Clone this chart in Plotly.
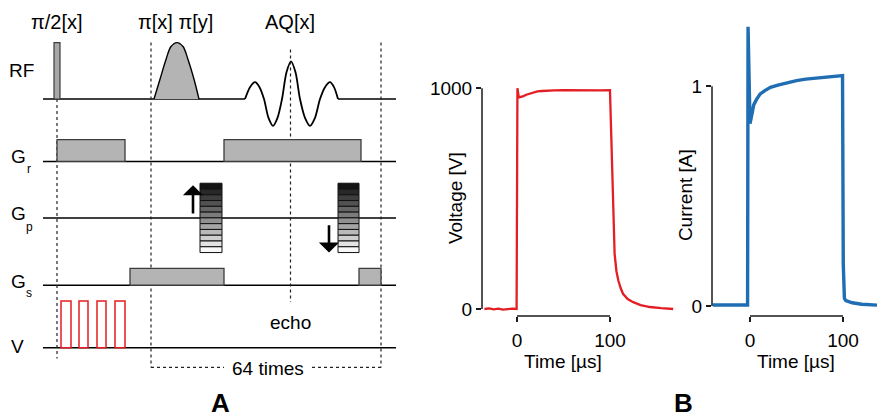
import plotly.graph_objects as go

# ================= Panel B data =================
volt_time = [-35, -30, -25, -20, -15, -10, -5, -0.4, 0, 0.5, 2, 4, 7, 10, 14, 18, 22, 27, 32, 40,
             50, 60, 70, 80, 90, 100, 105, 107, 109, 111.5, 114, 119, 125, 133, 143, 155, 168]
volt_value = [0, 3, -2, 2, -3, 1, 2, 0, 500, 1000, 958, 960, 964, 970, 976, 981, 985, 987, 989, 990,
              991, 990, 992, 991, 990, 991, 250, 170, 129, 95, 69, 45, 31, 18, 9, 4, 0]

curr_time = [-40, -30, -20, -10, -2.6, -2.1, -1.2, 0, 1, 2, 4, 7, 11, 16, 22, 30, 40, 50, 60,
             70, 80, 90, 99.5, 100.3, 101.5, 103, 110, 120, 137]
curr_value = [0.005, 0.006, 0.004, 0.006, 0.005, 1.27, 1.0, 0.83, 0.85, 0.88, 0.915, 0.94, 0.965,
              0.98, 0.995, 1.005, 1.017, 1.025, 1.032, 1.037, 1.041, 1.044, 1.048, 0.19, 0.035,
              0.025, 0.015, 0.008, 0.004]

time_ticks = [0, 100]
volt_ticks = [0, 1000]
curr_ticks = [0, 1]

# ================= Panel A: pulse sequence (schematic units) =================
seq_start, seq_end = 43, 396
rf_base, gr_base, gp_base, gs_base, v_base = 100, 163, 220, 288, 351

rf_hard = [54, 60, 43]                      # x0, x1, top
rf_soft_x = [154, 160, 166, 171, 177, 183, 188, 194, 199]
rf_soft_y = [100, 80, 60, 47, 43, 47, 60, 80, 100]
aq_x = [245, 250, 255, 259.5, 264, 268.5, 273, 277.5, 282, 286.5, 291, 295.5, 300, 305, 310,
        315, 320, 325, 330, 334, 338]
aq_y = [100, 88, 83, 88, 100, 119, 127, 119, 100, 73, 62, 73, 100, 119, 127,
        119, 100, 88, 83, 88, 100]

gr_blocks = [(57, 125), (224, 361)]
gr_top = 141
gs_blocks = [(130, 224), (359, 381)]
gs_top = 271
gp_blocks = [(200, 222), (338, 359)]
gp_top, gp_bottom, gp_steps = 185, 255, 12
gp_arrows = [(193, 217, 187), (329, 226, 255)]   # x, tail y, tip y
v_pulses = [(61, 71), (79, 88), (97, 106), (115, 125)]
v_top = 304

event_x = [57, 151, 290.5, 381]
event_top = [100, 43, 50, 43]
event_bottom = [362, 371, 305, 371]
loop_y = 371
loop_gap = (224, 312)

FONT = "Liberation Sans, Arial, sans-serif"
GRAY = "#b4b4b4"
EDGE = "#3c3c3c"
RED = "#e31e24"
BLUE = "#1f6db3"

fig = go.Figure()

# ---------- Panel B traces ----------
fig.add_trace(go.Scatter(x=volt_time, y=volt_value, mode="lines",
                         line=dict(color=RED, width=2.3), xaxis="x", yaxis="y",
                         hoverinfo="skip"))
fig.add_trace(go.Scatter(x=curr_time, y=curr_value, mode="lines",
                         line=dict(color=BLUE, width=3.4), xaxis="x2", yaxis="y2",
                         hoverinfo="skip"))

# ---------- Panel A traces ----------
ax3 = dict(xaxis="x3", yaxis="y3", hoverinfo="skip")
blk = dict(color="black", width=1.5)
# baselines
fig.add_trace(go.Scatter(x=[seq_start, aq_x[0], None, aq_x[-1], seq_end],
                         y=[rf_base, rf_base, None, rf_base, rf_base], mode="lines", line=blk, **ax3))
for b in [gr_base, gp_base, gs_base, v_base]:
    fig.add_trace(go.Scatter(x=[seq_start, seq_end], y=[b, b], mode="lines", line=blk, **ax3))
# soft pi pulse
fig.add_trace(go.Scatter(x=rf_soft_x, y=rf_soft_y, mode="lines", fill="toself", fillcolor=GRAY,
                         line=dict(color="black", width=1.4, shape="spline", smoothing=0.9), **ax3))
# acquisition waveform
fig.add_trace(go.Scatter(x=aq_x, y=aq_y, mode="lines",
                         line=dict(color="black", width=1.8, shape="spline", smoothing=0.8), **ax3))
# dashed event lines
dash = dict(color="#222222", width=1.2, dash="3px,3px")
for x, t, b in zip(event_x, event_top, event_bottom):
    fig.add_trace(go.Scatter(x=[x, x], y=[t, b], mode="lines", line=dash, **ax3))
fig.add_trace(go.Scatter(x=[event_x[1], loop_gap[0], None, loop_gap[1], event_x[3]],
                         y=[loop_y, loop_y, None, loop_y, loop_y], mode="lines", line=dash, **ax3))

shapes = []
ref = dict(xref="x3", yref="y3")
shapes.append(dict(type="rect", x0=rf_hard[0], x1=rf_hard[1], y0=rf_base, y1=rf_hard[2],
                   fillcolor="#a8a8a8", line=dict(color=EDGE, width=1.2), **ref))
for x0, x1 in gr_blocks:
    shapes.append(dict(type="rect", x0=x0, x1=x1, y0=gr_base, y1=gr_top,
                       fillcolor=GRAY, line=dict(color=EDGE, width=1.3), **ref))
for x0, x1 in gs_blocks:
    shapes.append(dict(type="rect", x0=x0, x1=x1, y0=gs_base, y1=gs_top,
                       fillcolor=GRAY, line=dict(color=EDGE, width=1.3), **ref))
step_h = (gp_bottom - gp_top) / gp_steps
for x0, x1 in gp_blocks:
    for i in range(gp_steps):
        g = int(20 + (248 - 20) * i / (gp_steps - 1))
        shapes.append(dict(type="rect", x0=x0, x1=x1, y0=gp_top + i * step_h,
                           y1=gp_top + (i + 1) * step_h,
                           fillcolor=f"rgb({g},{g},{g})", line=dict(color="#111111", width=1),
                           **ref))
for x0, x1 in v_pulses:
    shapes.append(dict(type="rect", x0=x0, x1=x1, y0=v_base, y1=v_top,
                       fillcolor="white", line=dict(color=RED, width=1.5), **ref))

# Panel B axis decorations (spines only between end ticks, as in the reference)
spine = dict(color="#1a1a1a", width=1.5)
shapes.append(dict(type="line", xref="paper", yref="y", x0=482 / 877, x1=482 / 877,
                   y0=volt_ticks[0], y1=volt_ticks[-1], line=spine))
shapes.append(dict(type="line", xref="paper", yref="y2", x0=712 / 877, x1=712 / 877,
                   y0=curr_ticks[0], y1=curr_ticks[-1], line=spine))
yb = 1 - 319 / 417
shapes.append(dict(type="line", xref="x", yref="paper", x0=time_ticks[0], x1=time_ticks[-1],
                   y0=yb, y1=yb, line=spine))
shapes.append(dict(type="line", xref="x2", yref="paper", x0=time_ticks[0], x1=time_ticks[-1],
                   y0=yb, y1=yb, line=spine))

ann = []
def txt(x, y, s, size=19, ref3=True, **kw):
    d = dict(x=x, y=y, text=s, showarrow=False, font=dict(family=FONT, size=size, color="black"),
             xanchor="center", yanchor="middle")
    if ref3:
        d.update(xref="x3", yref="y3")
    else:
        d.update(xref="paper", yref="paper", x=x / 877, y=1 - y / 417)
    d.update(kw)
    ann.append(d)

txt(57, 22, "π/2[x]", 20)
txt(175, 22, "π[x] π[y]", 20)
txt(290, 22, "AQ[x]", 20)
txt(21, 71, "RF", 19)
txt(18, 158, "G", 19); txt(29, 171, "r", 12)
txt(18, 216, "G", 19); txt(29, 229, "p", 12)
txt(18, 284, "G", 19); txt(29, 296, "s", 12)
txt(17, 350, "V", 19)
txt(290, 326, "echo", 19)
txt(268, 372, "64 times", 19)
txt(220, 407, "<b>A</b>", 26)
txt(683, 407, "<b>B</b>", 26, ref3=False)
txt(455, 200, "Voltage [V]", 19, ref3=False, textangle=-90)
txt(685, 197, "Current [A]", 19, ref3=False, textangle=-90)
txt(563, 365, "Time [µs]", 19, ref3=False)
txt(796, 365, "Time [µs]", 19, ref3=False)

for x, tail, tip in gp_arrows:
    ann.append(dict(x=x, y=tip, ax=x, ay=tail, xref="x3", yref="y3", axref="x3", ayref="y3",
                    showarrow=True, arrowhead=1, arrowsize=1.3, arrowwidth=2.6,
                    arrowcolor="black", text=""))

tickfont = dict(family=FONT, size=19, color="black")
common = dict(showgrid=False, zeroline=False, showline=False, ticks="outside", ticklen=5,
              tickwidth=1.4, tickcolor="#1a1a1a", tickfont=tickfont, tickmode="array")

fig.update_layout(
    width=877, height=417, margin=dict(l=0, r=0, t=0, b=0),
    paper_bgcolor="white", plot_bgcolor="rgba(0,0,0,0)", showlegend=False,
    xaxis=dict(domain=[482 / 877, 676 / 877], range=[-37.6, 171], tickvals=time_ticks,
               anchor="y", ticklabelstandoff=2, **common),
    yaxis=dict(domain=[1 - 319 / 417, 1 - 40 / 417], range=[-31.4, 1219.7],
               tickvals=volt_ticks, anchor="x", **common),
    xaxis2=dict(domain=[712 / 877, 1.0], range=[-40.86, 136.56], tickvals=time_ticks,
                anchor="y2", ticklabelstandoff=2, **common),
    yaxis2=dict(domain=[1 - 319 / 417, 1 - 20 / 417], range=[-0.045, 1.3018],
                tickvals=curr_ticks, anchor="x2", **common),
    xaxis3=dict(domain=[0, 420 / 877], range=[0, 420], visible=False, anchor="y3"),
    yaxis3=dict(domain=[0, 1], range=[417, 0], visible=False, anchor="x3"),
    shapes=shapes, annotations=ann,
)

fig.write_html("out.html", config={"displayModeBar": False, "staticPlot": True},
               post_script="document.body.style.margin='0';document.body.style.overflow='hidden';")
